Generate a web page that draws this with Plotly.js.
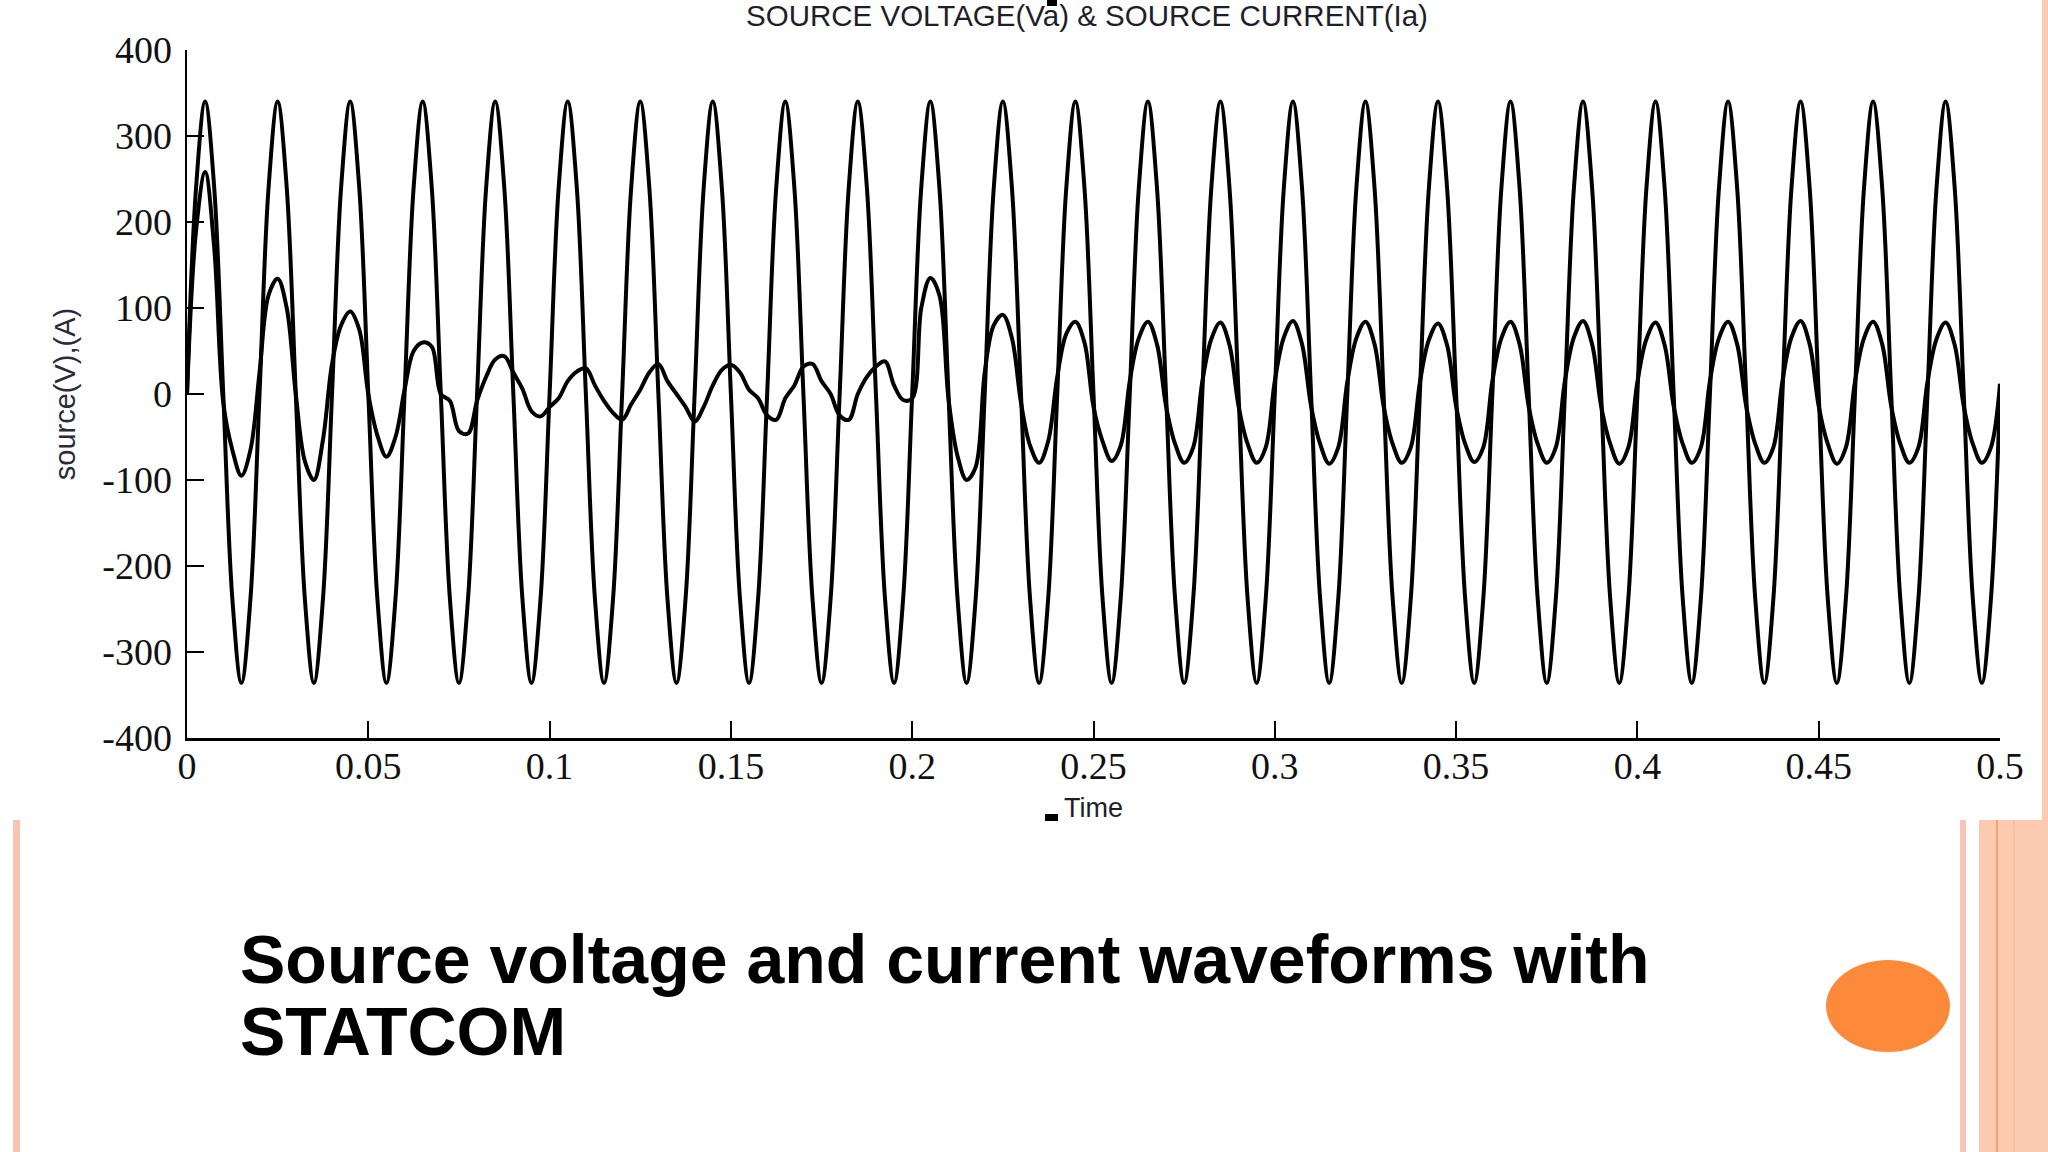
<!DOCTYPE html>
<html><head><meta charset="utf-8">
<script src="https://cdn.plot.ly/plotly-3.0.1.min.js"></script>
<style>html,body{margin:0;padding:0;background:#ffffff;overflow:hidden;} #chart{width:2048px;height:1152px;}</style>
</head><body><div id="chart"></div>
<script>
// ---------- data ----------
const chartTitle = "SOURCE VOLTAGE(Va) & SOURCE CURRENT(Ia)";
const xAxisTitle = "Time";
const yAxisTitle = "source(V),(A)";
const captionLine1 = "Source voltage and current waveforms with";
const captionLine2 = "STATCOM";

const timeStart = 0;      // s
const timeStep = 0.0025;  // s between samples

const sourceVoltage = [
  0, 240, 340, 240, 0, -238, -336, -238,
  0, 240, 340, 240, 0, -238, -336, -238,
  0, 240, 340, 240, 0, -238, -336, -238,
  0, 240, 340, 240, 0, -238, -336, -238,
  0, 240, 340, 240, 0, -238, -336, -238,
  0, 240, 340, 240, 0, -238, -336, -238,
  0, 240, 340, 240, 0, -238, -336, -238,
  0, 240, 340, 240, 0, -238, -336, -238,
  0, 240, 340, 240, 0, -238, -336, -238,
  0, 240, 340, 240, 0, -238, -336, -238,
  0, 240, 340, 240, 0, -238, -336, -238,
  0, 240, 340, 240, 0, -238, -336, -238,
  0, 240, 340, 240, 0, -238, -336, -238,
  0, 240, 340, 240, 0, -238, -336, -238,
  0, 240, 340, 240, 0, -238, -336, -238,
  0, 240, 340, 240, 0, -238, -336, -238,
  0, 240, 340, 240, 0, -238, -336, -238,
  0, 240, 340, 240, 0, -238, -336, -238,
  0, 240, 340, 240, 0, -238, -336, -238,
  0, 240, 340, 240, 0, -238, -336, -238,
  0, 240, 340, 240, 0, -238, -336, -238,
  0, 240, 340, 240, 0, -238, -336, -238,
  0, 240, 340, 240, 0, -238, -336, -238,
  0, 240, 340, 240, 0, -238, -336, -238,
  0, 240, 340, 240, 0, -238, -336, -238,
  0
];

const sourceCurrent = [
  0, 190, 258, 170, -10, -65, -95, -65,
  25, 115, 134, 100, 0, -78, -100, -53,
  35, 80, 96, 75, 0, -48, -73, -50,
  5, 50, 60, 55, 0, -8, -43, -46,
  -8, 20, 40, 44, 25, 6, -20, -26,
  -15, -5, 15, 26, 30, 10, -8, -22,
  -30, -12, 5, 25, 35, 15, 0, -15,
  -32, -15, 10, 28, 34, 25, 5, -5,
  -25, -30, -5, 10, 32, 35, 15, 0,
  -25, -30, 0, 20, 32, 38, 10, -7,
  -5, 100, 135, 115, -5, -72, -100, -85,
  25, 80, 92, 65, -10, -60, -80, -55,
  20, 70, 84, 60, -15, -55, -78, -60,
  15, 65, 84, 58, -14, -58, -80, -62,
  14, 64, 83, 57, -14, -58, -80, -62,
  15, 66, 85, 58, -14, -58, -81, -62,
  14, 65, 84, 58, -14, -58, -80, -62,
  13, 63, 82, 57, -14, -58, -79, -62,
  15, 65, 84, 58, -14, -58, -80, -62,
  15, 66, 85, 58, -14, -58, -81, -62,
  14, 64, 83, 57, -14, -58, -80, -62,
  15, 65, 84, 58, -14, -58, -80, -62,
  15, 66, 85, 58, -14, -58, -81, -62,
  14, 65, 84, 58, -14, -58, -80, -62,
  14, 64, 83, 57, -14, -58, -80, -62,
  12
];

const xTickVals = [0, 0.05, 0.1, 0.15, 0.2, 0.25, 0.3, 0.35, 0.4, 0.45, 0.5];
const xTickText = ["0", "0.05", "0.1", "0.15", "0.2", "0.25", "0.3", "0.35", "0.4", "0.45", "0.5"];
const yTickVals = [-400, -300, -200, -100, 0, 100, 200, 300, 400];
const yTickText = ["-400", "-300", "-200", "-100", "0", "100", "200", "300", "400"];

// ---------- layout geometry (pixels) ----------
const W = 2048, H = 1152;
const M = {l: 187, r: 48, t: 50, b: 414};
const plotW = W - M.l - M.r, plotH = H - M.t - M.b;
const px = x => (x - M.l) / plotW;            // pixel x -> paper x
const py = y => (H - M.b - y) / plotH;        // pixel y -> paper y

function rectShape(x0, y0, x1, y1, color) {
  return {type: 'rect', xref: 'paper', yref: 'paper', layer: 'below',
          x0: px(x0), x1: px(x1), y0: py(y1), y1: py(y0),
          fillcolor: color, line: {width: 0}};
}

const shapes = [
  // slide decorations
  rectShape(13, 820, 20, 1152, '#f7c3b3'),
  rectShape(1960, 820, 1966, 1152, '#f8c6b8'),
  rectShape(1979, 820, 2048, 1152, '#fcc9b1'),
  rectShape(1996, 820, 1998, 1152, '#f4a273'),
  rectShape(2013, 820, 2015, 1152, '#f9bfa4'),
  rectShape(2042, 0, 2048, 820, '#fcc9b1'),
  // small black marks from the source picture
  {type: 'rect', xref: 'paper', yref: 'paper', x0: px(1047), x1: px(1057), y0: py(6), y1: py(0), fillcolor: '#000', line: {width: 0}},
  {type: 'rect', xref: 'paper', yref: 'paper', x0: px(1045), x1: px(1058), y0: py(821), y1: py(814), fillcolor: '#000', line: {width: 0}},
  // orange bullet
  {type: 'circle', xref: 'paper', yref: 'paper', x0: px(1826), x1: px(1950), y0: py(1052), y1: py(960),
   fillcolor: '#fd8a3b', line: {width: 0}}
];

const traces = [
  {type: 'scatter', mode: 'lines', name: 'Va', x0: timeStart, dx: timeStep, y: sourceVoltage,
   line: {color: '#000000', width: 4, shape: 'spline', smoothing: 1}},
  {type: 'scatter', mode: 'lines', name: 'Ia', x0: timeStart, dx: timeStep, y: sourceCurrent,
   line: {color: '#000000', width: 4, shape: 'spline', smoothing: 1}}
];

const layout = {
  width: W, height: H,
  margin: M,
  paper_bgcolor: '#ffffff', plot_bgcolor: '#ffffff',
  showlegend: false,
  title: {text: chartTitle, x: 1087 / W, xanchor: 'center', y: 1 - 16 / H, yanchor: 'middle', yref: 'container',
          font: {family: 'Liberation Sans, Arial, sans-serif', size: 29.5, color: '#1e1e2a'}},
  xaxis: {
    range: [0, 0.5], tickmode: 'array', tickvals: xTickVals, ticktext: xTickText,
    ticks: 'inside', ticklen: 17, tickwidth: 2, tickcolor: '#000',
    showline: true, linecolor: '#000', linewidth: 2.5, showgrid: false, zeroline: false,
    ticklabelstandoff: -7,
    tickfont: {family: 'Liberation Serif, Times New Roman, serif', size: 38, color: '#111'},
    title: {text: xAxisTitle, standoff: 12, font: {family: 'Liberation Sans, Arial, sans-serif', size: 27, color: '#1e1e2a'}}
  },
  yaxis: {
    range: [-400, 400], tickmode: 'array', tickvals: yTickVals, ticktext: yTickText,
    ticks: 'inside', ticklen: 17, tickwidth: 2, tickcolor: '#000',
    showline: true, linecolor: '#000', linewidth: 2.5, showgrid: false, zeroline: false,
    ticklabelstandoff: 5,
    tickfont: {family: 'Liberation Serif, Times New Roman, serif', size: 38, color: '#111'},
    title: {text: yAxisTitle, standoff: 18, font: {family: 'Liberation Sans, Arial, sans-serif', size: 29, color: '#2a2a3a'}}
  },
  shapes: shapes,
  annotations: [
    {xref: 'paper', yref: 'paper', x: px(238), y: py(959), xanchor: 'left', yanchor: 'middle', showarrow: false,
     text: '<b>' + captionLine1 + '</b>', font: {family: 'Liberation Sans, Arial, sans-serif', size: 68, color: '#000'}},
    {xref: 'paper', yref: 'paper', x: px(238), y: py(1031), xanchor: 'left', yanchor: 'middle', showarrow: false,
     text: '<b>' + captionLine2 + '</b>', font: {family: 'Liberation Sans, Arial, sans-serif', size: 68, color: '#000'}}
  ]
};

Plotly.newPlot('chart', traces, layout, {displayModeBar: false, staticPlot: true});
</script>
</body></html>
